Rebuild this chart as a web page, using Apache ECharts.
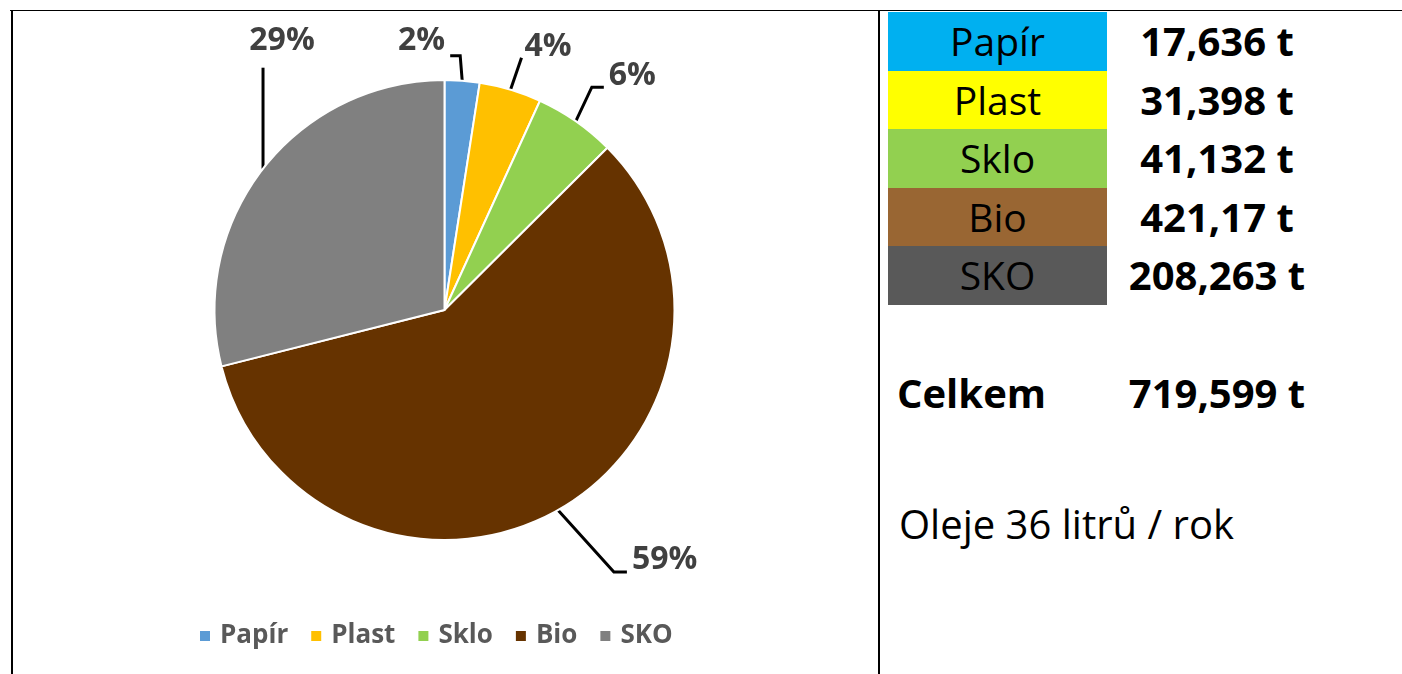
<!DOCTYPE html>
<html>
<head>
<meta charset="utf-8">
<title>Odpady</title>
<script src="https://cdn.jsdelivr.net/npm/echarts@6/dist/echarts.min.js"></script>
<style>
    html, body { margin: 0; padding: 0; background: #fff; }
    #page { position: relative; width: 1402px; height: 674px; overflow: hidden; font-family: "Open Sans", sans-serif; }
    #chart { position: absolute; left: 0; top: 0; width: 879px; height: 674px; }
    .line { position: absolute; background: #000; }
    .cell { position: absolute; left: 888px; width: 219px; text-align: center; font-size: 39px; color: #000; }
    .val { position: absolute; left: 1117px; width: 200px; text-align: center; font-size: 40px; font-weight: bold; color: #000; }
    .txt { position: absolute; font-size: 40px; color: #000; white-space: nowrap; }
</style>
</head>
<body>
<div id="page">
    <div class="line" style="left:10px;top:10px;width:1392px;height:1px;"></div>
    <div class="line" style="left:11px;top:10px;width:2px;height:664px;"></div>
    <div class="line" style="left:878px;top:10px;width:2px;height:664px;"></div>
    <div id="chart"></div>
    <div id="table"></div>
    <div class="txt" style="left:897px;top:365px;font-weight:bold;">Celkem</div>
    <div class="val" id="total" style="top:365px;"></div>
    <div class="txt" style="left:899px;top:496px;">Oleje 36 litrů / rok</div>
</div>
<script>
// data
var categories = ['Papír', 'Plast', 'Sklo', 'Bio', 'SKO'];
var tonnes = [17.636, 31.398, 41.132, 421.17, 208.263];

// barvy
var pieColors = ['#5B9BD5', '#FFC000', '#92D050', '#663300', '#808080'];
var tableColors = ['#00B0F0', '#FFFF00', '#92D050', '#996633', '#595959'];

// vodici cary popisku (posun od okraje vysece)
var leaders = [
    {bend: [[-2, -25], [-12, -25]], dx: -5, dy: -15, align: 'right'},
    {bend: [[11, -32]], dx: 3, dy: -11, align: 'left'},
    {bend: [[16, -34], [28, -34]], dx: 5, dy: -11, align: 'left'},
    {bend: [[56, 62], [69, 62]], dx: 5, dy: -12, align: 'left'},
    {bend: [[0, -101]], dx: 19, dy: -27, align: 'center'}
];

function fmt(v) {
    return String(Math.round(v * 1000) / 1000).replace('.', ',') + ' t';
}

// tabulka vpravo
var rowTop = 12, rowH = 58.6;
var html = '';
categories.forEach(function (name, i) {
    var top = rowTop + i * rowH;
    html += '<div class="cell" style="top:' + top + 'px;height:' + rowH + 'px;line-height:' + rowH + 'px;background:' + tableColors[i] + ';">' + name + '</div>';
    html += '<div class="val" style="top:' + top + 'px;height:' + rowH + 'px;line-height:' + rowH + 'px;">' + fmt(tonnes[i]) + '</div>';
});
document.getElementById('table').innerHTML = html;
var total = tonnes.reduce(function (a, b) { return a + b; }, 0);
document.getElementById('total').textContent = fmt(total);

// graf
var myChart = echarts.init(document.getElementById('chart'));
var option = {
    animation: false,
    color: pieColors,
    textStyle: {fontFamily: '"Open Sans", sans-serif'},
    legend: {
        data: categories,
        left: 193,
        top: 618,
        itemWidth: 12,
        itemHeight: 12,
        itemGap: 21,
        icon: 'rect',
        textStyle: {fontSize: 26, fontWeight: 'bold', color: '#595959', padding: [0, 0, 0, 4], fontFamily: '"Open Sans", sans-serif'}
    },
    series: [
        {
            type: 'pie',
            center: [444.5, 310],
            radius: 230,
            startAngle: 90,
            clockwise: true,
            percentPrecision: 0,
            itemStyle: {borderColor: '#fff', borderWidth: 2},
            label: {
                show: true,
                position: 'outside',
                formatter: '{d}%',
                fontSize: 32,
                fontWeight: 'bold',
                color: '#404040',
                fontFamily: '"Open Sans", sans-serif'
            },
            labelLine: {show: true, length: 20, length2: 10, lineStyle: {color: '#000', width: 3}},
            emphasis: {disabled: true},
            labelLayout: function (p) {
                var pts = p.labelLinePoints;
                if (!pts) return {};
                var a = pts[0];
                var s = leaders[p.dataIndex];
                var line = [[a[0], a[1]]];
                s.bend.forEach(function (b) { line.push([a[0] + b[0], a[1] + b[1]]); });
                var end = line[line.length - 1];
                return {
                    x: end[0] + s.dx,
                    y: end[1] + s.dy,
                    align: s.align,
                    verticalAlign: 'middle',
                    labelLinePoints: line
                };
            },
            data: categories.map(function (name, i) {
                return {name: name, value: tonnes[i]};
            })
        }
    ]
};
myChart.setOption(option);
</script>
</body>
</html>
